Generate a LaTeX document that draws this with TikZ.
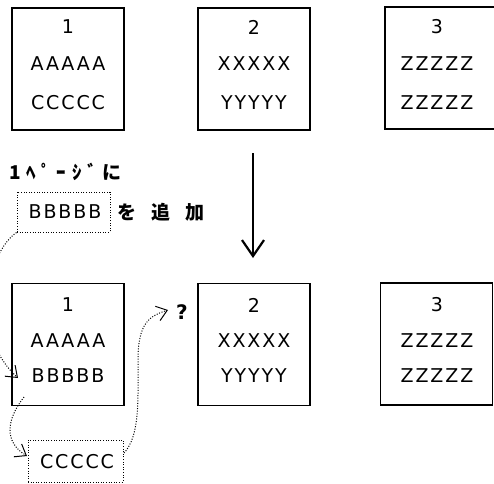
\documentclass[tikz,border=0pt]{standalone}
\usepackage{fontspec}
\setmainfont{DejaVu Sans}
\newfontfamily\latls[LetterSpace=10]{DejaVu Sans}
\newfontfamily\jp{Noto Sans CJK JP}
\newfontfamily\jpls[LetterSpace=30]{Noto Sans CJK JP}
\usetikzlibrary{arrows.meta}
\begin{document}
\begin{tikzpicture}[x=1pt,y=-1pt,
  pagebox/.style={draw, line width=1.3pt, minimum width=112pt, minimum height=122pt, inner sep=0pt},
  lbl/.style={font=\latls\fontsize{19}{19}\selectfont, inner sep=0pt},
  jlbl/.style={font=\jp\bfseries\fontsize{19}{19}\selectfont, inner sep=0pt},
  dotbox/.style={draw, line width=1pt, dash pattern=on 1pt off 1.6pt, inner sep=0pt},
  dotarrow/.style={line width=1pt, dash pattern=on 1pt off 1.6pt,
    -{Straight Barb[length=10pt,width=15pt,line width=1pt]}},
  bigarrow/.style={line width=2.2pt, -{Straight Barb[length=16pt,width=22pt,line width=2.2pt]}}
  ]
\useasboundingbox (0,0) rectangle (494,483);
% top row
\node[pagebox] (t1) at (68,69) {};
\node[pagebox] (t2) at (254,69) {};
\node[pagebox] (t3) at (441,68) {};
\node[lbl] (t1a) at (68,27) {1};
\node[lbl] (t1b) at (68,64) {AAAAA};
\node[lbl] (t1c) at (68,103) {CCCCC};
\node[lbl] (t2a) at (254,27) {2};
\node[lbl] (t2b) at (254,64) {XXXXX};
\node[lbl] (t2c) at (254,103) {YYYYY};
\node[lbl] (t3a) at (437,27) {3};
\node[lbl] (t3b) at (437,64) {ZZZZZ};
\node[lbl] (t3c) at (437,103) {ZZZZZ};
% arrow
\coordinate (arrS) at (253,153);
\coordinate (arrE) at (253,258);
\draw[bigarrow] (arrS) -- (arrE);
% instruction
\node[font=\jpls\bfseries\fontsize{19}{19}\selectfont, inner sep=0pt, anchor=west] (instr) at (9,172) {1ﾍﾟｰｼﾞに};
\node[dotbox, minimum width=93pt, minimum height=40pt] (bbox) at (63.5,212) {};
\node[lbl] (bbtxt) at (65,212) {BBBBB};
\node[jlbl, anchor=west] (add) at (117,212) {を\hspace{15pt}追\hspace{15pt}加};
% bottom row
\node[pagebox] (b1) at (68,344.5) {};
\node[pagebox] (b2) at (254,344.5) {};
\node[pagebox] (b3) at (436.5,344) {};
\node[lbl] (b1a) at (68,305) {1};
\node[lbl] (b1b) at (68,341) {AAAAA};
\node[lbl] (b1c) at (68,376) {BBBBB};
\node[lbl] (b2a) at (254,305) {2};
\node[lbl] (b2b) at (254,341) {XXXXX};
\node[lbl] (b2c) at (254,376) {YYYYY};
\node[lbl] (b3a) at (437,305) {3};
\node[lbl] (b3b) at (437,341) {ZZZZZ};
\node[lbl] (b3c) at (437,376) {ZZZZZ};
\node[dotbox, minimum width=95pt, minimum height=42pt] (cbox) at (75.5,461) {};
\node[lbl] (cctxt) at (77,462) {CCCCC};
\node[font=\bfseries\fontsize{20}{20}\selectfont, inner sep=0pt] (q) at (182,312) {?};
% dotted connectors
\coordinate (tipA) at (18,378);
\coordinate (srcB) at (24,397);
\coordinate (tipB) at (27,456);
\coordinate (srcC) at (124,453);
\coordinate (midC) at (138,360);
\coordinate (tipC) at (168,310);
\draw[dotarrow] (bbox.south west) .. controls (-12,252) and (-32,332) .. (tipA);
\draw[dotarrow] (srcB) .. controls (6,420) and (4,442) .. (tipB);
\draw[dotarrow] (srcC) .. controls (140,436) and (138,400) .. (midC)
  .. controls (138,322) and (150,316) .. (tipC);
\end{tikzpicture}
\end{document}
